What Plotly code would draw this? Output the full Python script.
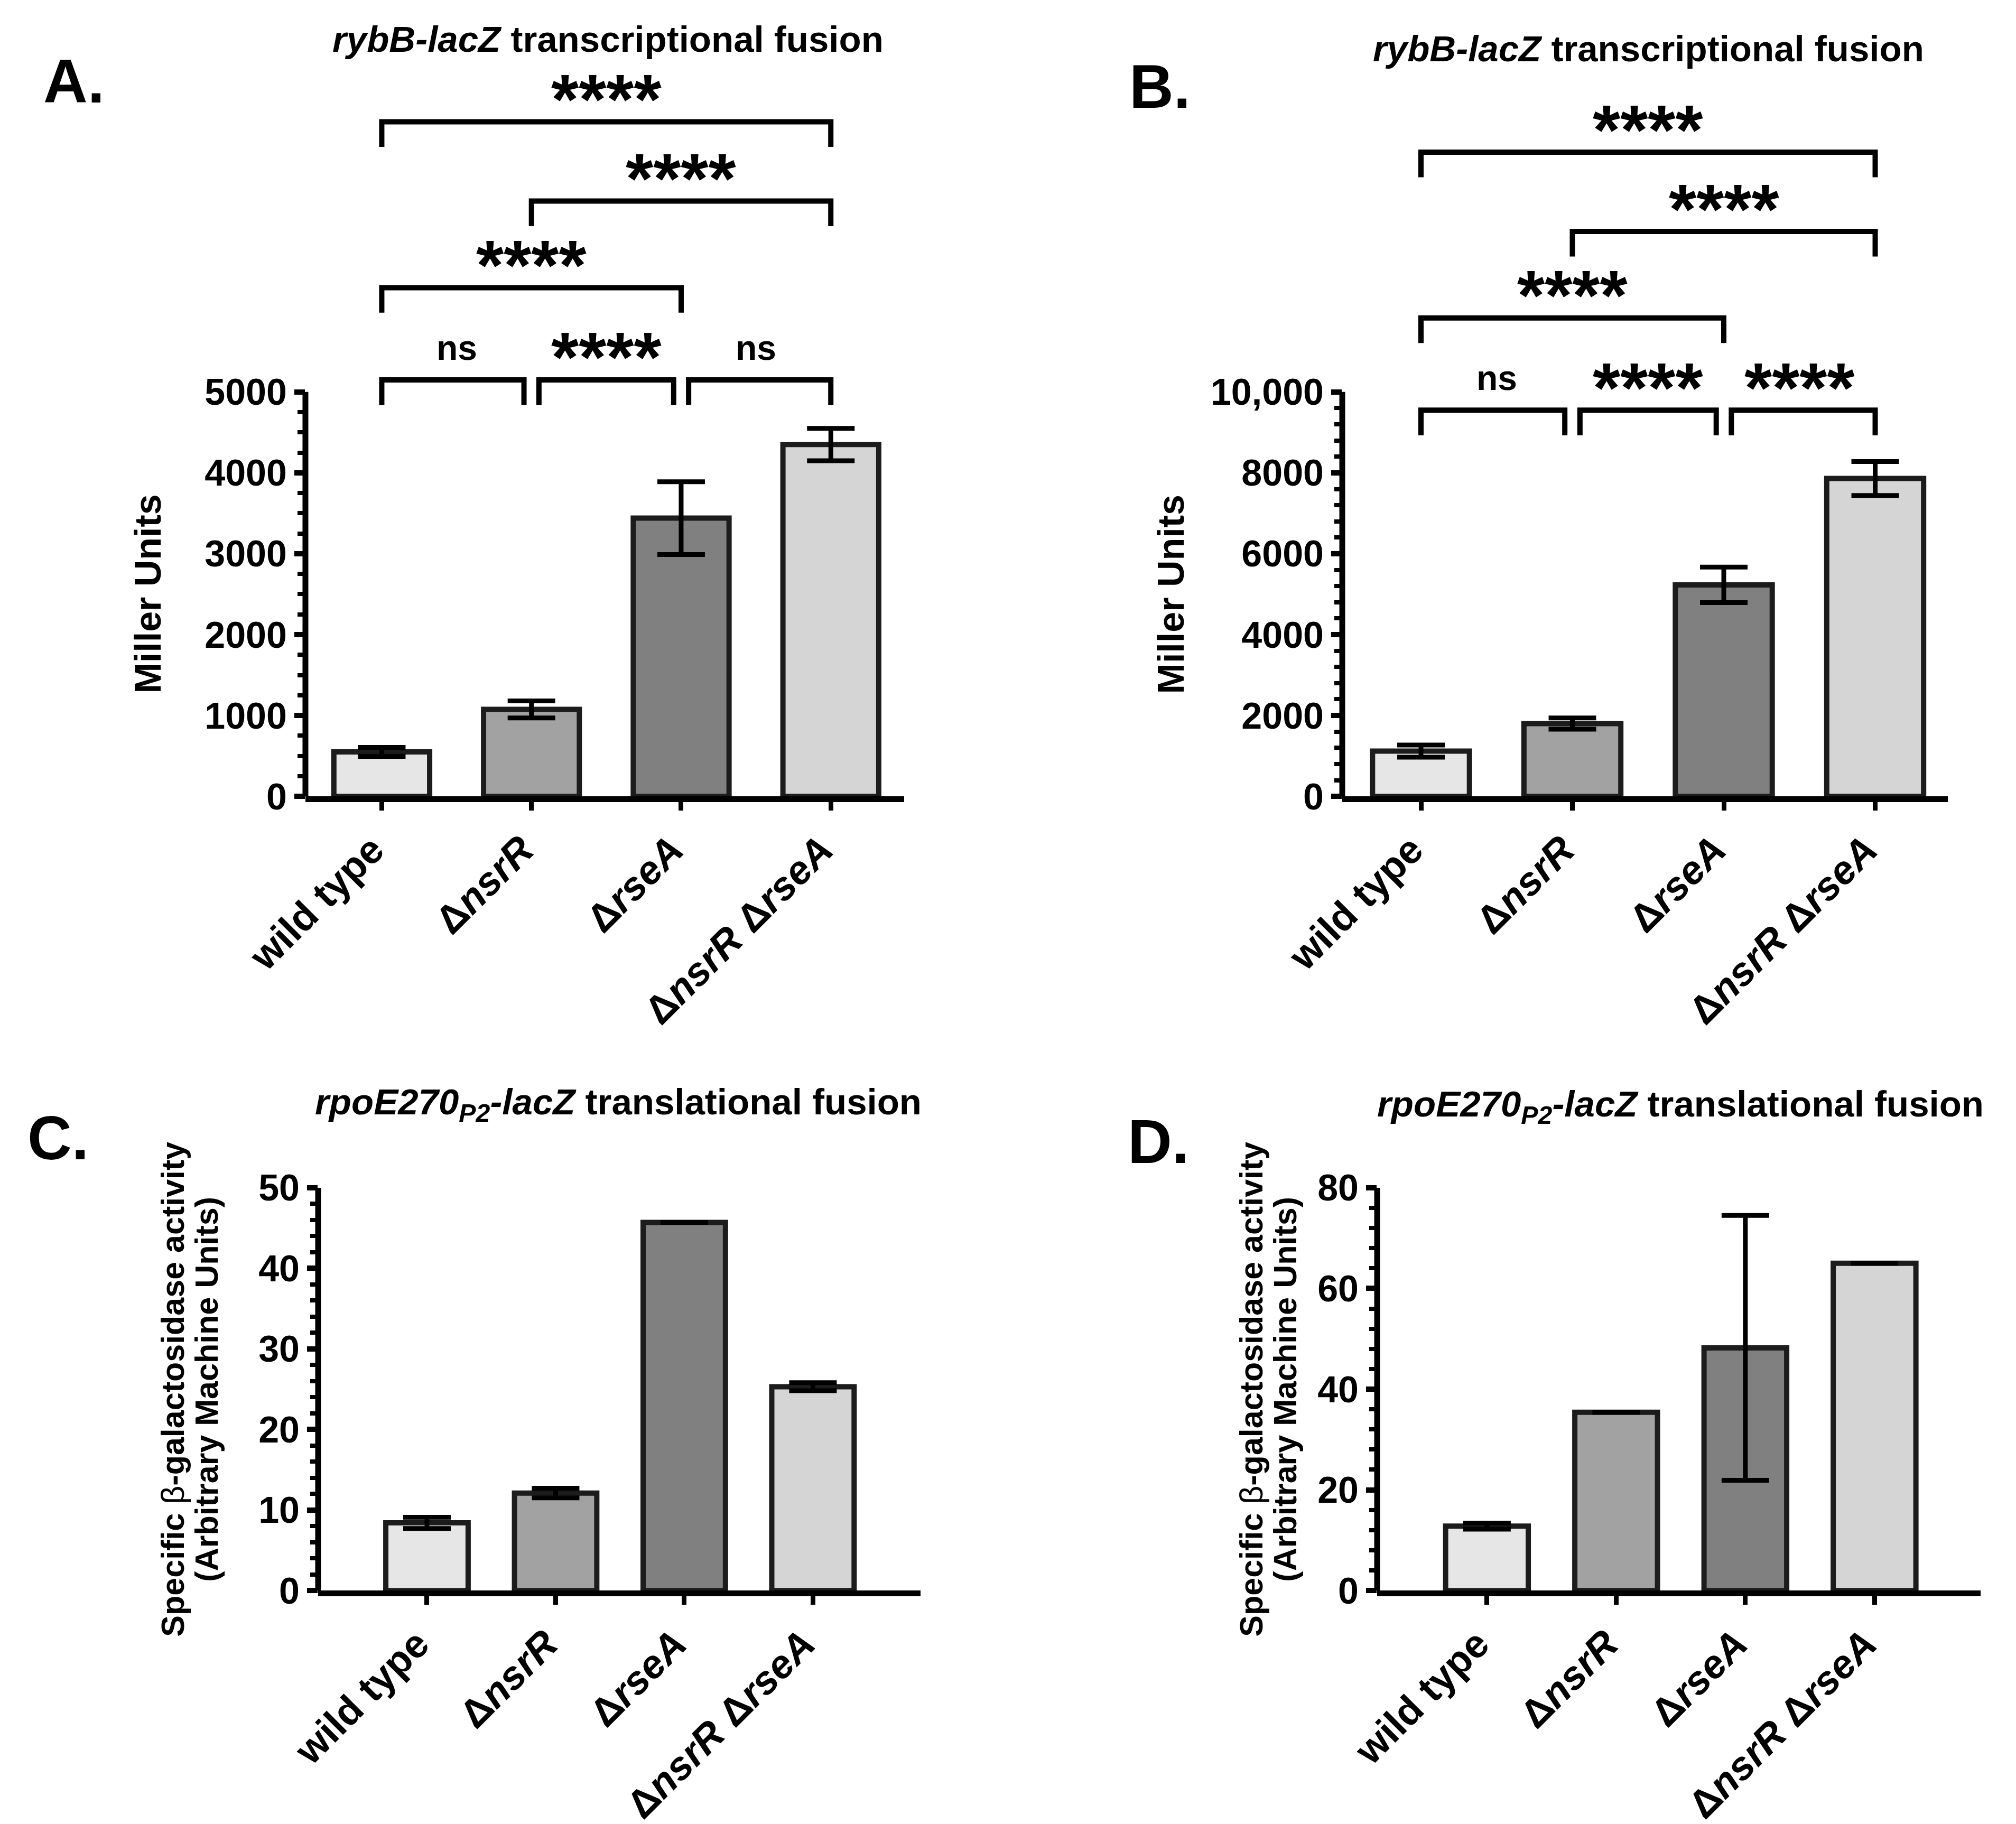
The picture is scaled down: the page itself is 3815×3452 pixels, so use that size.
import numpy as np
import plotly.graph_objects as go

# ---- data ------------------------------------------------------------------
strains = ["wild type", "Δ<i>nsrR</i>", "Δ<i>rseA</i>", "Δ<i>nsrR</i> Δ<i>rseA</i>"]

# A / B: rybB-lacZ transcriptional fusion (Miller units, mean and error)
rybb_a_mean = [550, 1075, 3440, 4350]
rybb_a_err = [55, 105, 450, 200]
rybb_b_mean = [1120, 1800, 5230, 7860]
rybb_b_err = [150, 140, 440, 420]

# C / D: rpoE270P2-lacZ translational fusion (arbitrary machine units)
rpoe_c_mean = [8.4, 12.1, 45.7, 25.3]
rpoe_c_err = [0.7, 0.6, None, 0.5]
rpoe_d_mean = [12.8, 35.4, 48.2, 65.0]
rpoe_d_err = [0.6, None, 26.3, None]

# pairwise comparisons: (group i, group j, significance)
rybb_a_stats = [(0, 1, "ns"), (1, 2, "****"), (2, 3, "ns"),
                (0, 2, "****"), (1, 3, "****"), (0, 3, "****")]
rybb_b_stats = [(0, 1, "ns"), (1, 2, "****"), (2, 3, "****"),
                (0, 2, "****"), (1, 3, "****"), (0, 3, "****")]

ticks_a = [0, 1000, 2000, 3000, 4000, 5000]
ticklabels_a = ["0", "1000", "2000", "3000", "4000", "5000"]
ticks_b = [0, 2000, 4000, 6000, 8000, 10000]
ticklabels_b = ["0", "2000", "4000", "6000", "8000", "10,000"]
ticks_c = [0, 10, 20, 30, 40, 50]
ticklabels_c = ["0", "10", "20", "30", "40", "50"]
ticks_d = [0, 20, 40, 60, 80]
ticklabels_d = ["0", "20", "40", "60", "80"]

title_rybb = "<i>rybB-lacZ</i> transcriptional fusion"
title_rpoe = "<i>rpoE270<sub>P2</sub>-lacZ</i> translational fusion"
ylabel_miller = ["Miller Units"]
ylabel_gal = ["Specific <span style='font-weight:normal'>β</span>-galactosidase activity",
              "(Arbitrary Machine Units)"]

# ---- style -----------------------------------------------------------------
FONT = "Liberation Sans, Arial, sans-serif"
INK = "#000000"
OUTLINE = "#1c1c1c"
BAR_FILLS = ["#e6e6e6", "#a2a2a2", "#808080", "#d5d5d5"]
W, H = 3815, 3452

PANELS = [
    dict(letter="A.", mean=rybb_a_mean, err=rybb_a_err, stats=rybb_a_stats,
         ticks=ticks_a, ticktext=ticklabels_a, minor=250,
         title=title_rybb, ytitle=ylabel_miller, ytitle_size=70,
         xdom=(0.1515, 0.4485), xrange=(-0.51, 3.49), ybase=0.5634, yspan=0.2217,
         headroom=1.8, br_base=1.030, title_xy=(0.3017, 0.9783),
         letter_xy=(0.0367, 0.9554), ytitle_x=0.0734),
    dict(letter="B.", mean=rybb_b_mean, err=rybb_b_err, stats=rybb_b_stats,
         ticks=ticks_b, ticktext=ticklabels_b, minor=400,
         title=title_rybb, ytitle=ylabel_miller, ytitle_size=70,
         xdom=(0.6658, 0.9662), xrange=(-0.52, 3.48), ybase=0.5634, yspan=0.2217,
         headroom=1.8, br_base=0.955, title_xy=(0.8176, 0.9733),
         letter_xy=(0.5754, 0.9525), ytitle_x=0.5811),
    dict(letter="C.", mean=rpoe_c_mean, err=rpoe_c_err, stats=[],
         ticks=ticks_c, ticktext=ticklabels_c, minor=2,
         title=title_rpoe, ytitle=ylabel_gal, ytitle_size=61,
         xdom=(0.1578, 0.4566), xrange=(-0.846, 3.836), ybase=0.1280, yspan=0.2208,
         headroom=1.0, br_base=1.0, title_xy=(0.3067, 0.3946),
         letter_xy=(0.0288, 0.3760), ytitle_x=0.0940),
    dict(letter="D.", mean=rpoe_d_mean, err=rpoe_d_err, stats=[],
         ticks=ticks_d, ticktext=ticklabels_d, minor=4,
         title=title_rpoe, ytitle=ylabel_gal, ytitle_size=61,
         xdom=(0.6831, 0.9824), xrange=(-0.85, 3.82), ybase=0.1280, yspan=0.2208,
         headroom=1.0, br_base=1.0, title_xy=(0.8335, 0.3934),
         letter_xy=(0.5746, 0.3740), ytitle_x=0.6290),
]

BR_ROWS = [0.0, 0.228, 0.442, 0.638]  # bracket row offsets, fraction of axis max
BR_LEG = 0.062    # bracket leg length, fraction of axis max
BR_GAP = 0.05     # gap between brackets sharing an end (category units)
YTITLE_LINE_GAP = 64  # px between stacked y-title lines


def bracket_levels(stats):
    """Adjacent pairs sit on the bottom row, wider ones stack above."""
    wide = sorted([s for s in stats if s[1] - s[0] > 1], key=lambda s: (s[1] - s[0], s[0]))
    levels = {}
    for s in stats:
        levels[s] = 0 if s[1] - s[0] == 1 else wide.index(s) + 1
    return levels


fig = go.Figure()
annotations = []
shapes = []

for n, p in enumerate(PANELS, start=1):
    sfx = "" if n == 1 else str(n)
    xa, ya = f"x{sfx}", f"y{sfx}"
    axis_max = p["ticks"][-1]

    fig.add_trace(
        go.Bar(
            x=strains,
            y=p["mean"],
            xaxis=xa,
            yaxis=ya,
            width=0.64,
            marker={"color": BAR_FILLS, "line": {"color": OUTLINE, "width": 10}},
            error_y={"type": "data", "array": p["err"], "visible": True,
                     "color": INK, "thickness": 9, "width": 45},
            showlegend=False,
        )
    )

    minor_vals = [v for v in np.arange(0, axis_max + p["minor"] / 2, p["minor"])
                  if v not in p["ticks"]]
    fig.layout[f"xaxis{sfx}"] = dict(
        domain=list(p["xdom"]), range=list(p["xrange"]), type="category", anchor=ya,
        automargin=False,
        showline=True, linewidth=11, linecolor=INK, showgrid=False, zeroline=False,
        ticks="outside", ticklen=16, tickwidth=9, tickcolor=INK, tickangle=-45,
        ticklabelshift=-18,
        tickfont={"family": FONT, "size": 75, "color": INK, "weight": "bold"},
    )
    fig.layout[f"yaxis{sfx}"] = dict(
        domain=[p["ybase"], p["ybase"] + p["yspan"] * p["headroom"]],
        range=[0, axis_max * p["headroom"]], anchor=xa, automargin=False,
        showline=False, showgrid=False, zeroline=False,
        tickmode="array", tickvals=p["ticks"], ticktext=p["ticktext"],
        ticks="outside", ticklen=20, tickwidth=10, tickcolor=INK,
        tickfont={"family": FONT, "size": 70, "color": INK, "weight": "bold"},
        minor={"tickmode": "array", "tickvals": minor_vals, "ticks": "outside",
               "ticklen": 14, "tickwidth": 8, "tickcolor": INK},
    )

    # y spine only up to the last tick (brackets live in the headroom above)
    shapes.append(dict(type="line", xref=f"{xa} domain", yref=ya, x0=0, x1=0,
                       y0=0, y1=axis_max, line={"color": INK, "width": 11}))

    levels = bracket_levels(p["stats"])
    for (i, j, label) in p["stats"]:
        lvl = levels[(i, j, label)]
        same_row = [s for s in p["stats"] if levels[s] == lvl and s != (i, j, label)]
        x0 = i + (BR_GAP if any(s[1] == i for s in same_row) else 0)
        x1 = j - (BR_GAP if any(s[0] == j for s in same_row) else 0)
        yb = axis_max * (p["br_base"] + BR_ROWS[lvl])
        yl = yb - axis_max * BR_LEG
        shapes.append(dict(type="path", xref=xa, yref=ya,
                           path=f"M {x0},{yl} L {x0},{yb} L {x1},{yb} L {x1},{yl}",
                           line={"color": INK, "width": 10}))
        stars = label.startswith("*")
        annotations.append(dict(
            x=(i + j) / 2, y=yb, xref=xa, yref=ya, text=label, showarrow=False,
            xanchor="center", yanchor="middle", yshift=43 if stars else 61,
            font={"family": FONT, "size": 134 if stars else 66, "color": INK,
                  "weight": "bold"},
        ))

    annotations.append(dict(
        x=p["title_xy"][0], y=p["title_xy"][1], xref="paper", yref="paper",
        text=p["title"], showarrow=False, xanchor="center", yanchor="middle",
        font={"family": FONT, "size": 69, "color": INK, "weight": "bold"},
    ))
    annotations.append(dict(
        x=p["letter_xy"][0], y=p["letter_xy"][1], xref="paper", yref="paper",
        text=p["letter"], showarrow=False, xanchor="center", yanchor="middle",
        font={"family": FONT, "size": 116, "color": INK, "weight": "bold"},
    ))
    n_lines = len(p["ytitle"])
    for k, line in enumerate(p["ytitle"]):
        annotations.append(dict(
            x=p["ytitle_x"], y=p["ybase"] + p["yspan"] / 2, xref="paper", yref="paper",
            xshift=(k - (n_lines - 1) / 2) * YTITLE_LINE_GAP,
            text=line, showarrow=False, textangle=-90,
            xanchor="center", yanchor="middle",
            font={"family": FONT, "size": p["ytitle_size"], "color": INK,
                  "weight": "bold"},
        ))

fig.update_layout(
    width=W,
    height=H,
    margin={"l": 0, "r": 0, "t": 0, "b": 0, "autoexpand": False},
    paper_bgcolor="white",
    plot_bgcolor="white",
    font={"family": FONT, "color": INK},
    shapes=shapes,
    annotations=annotations,
    bargap=0.36,
)

fig.write_html("out.html", config={"displayModeBar": False},
               post_script="document.body.style.margin = '0px';")
